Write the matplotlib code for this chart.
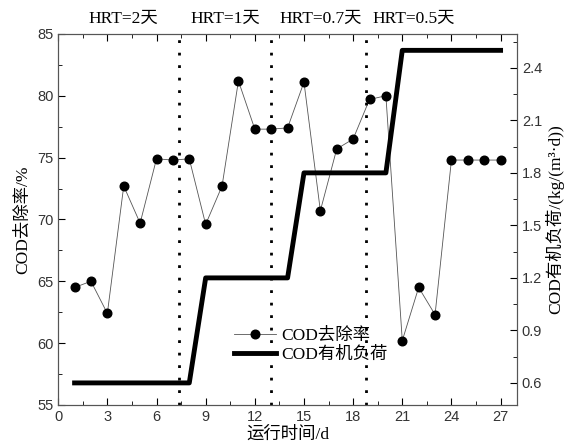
import numpy as np
import matplotlib.pyplot as plt
from matplotlib.ticker import MultipleLocator

plt.rcParams['font.family'] = ['Liberation Serif', 'Noto Sans CJK SC']
plt.rcParams['xtick.direction'] = 'in'
plt.rcParams['ytick.direction'] = 'in'

days = np.arange(1, 28)
removal = [64.5, 65.0, 62.4, 72.7, 69.7, 74.9, 74.8, 74.9, 69.6, 72.7,
           81.2, 77.3, 77.3, 77.4, 81.1, 70.7, 75.7, 76.5, 79.7, 80.0,
           60.2, 64.5, 62.3, 74.8, 74.8, 74.8, 74.8]
load_x = [1, 8, 9, 14, 15, 20, 21, 27]
load_y = [0.6, 0.6, 1.2, 1.2, 1.8, 1.8, 2.5, 2.5]
hrt_bounds = [7.4, 13.0, 18.8]
hrt_labels = ['HRT=2天', 'HRT=1天', 'HRT=0.7天', 'HRT=0.5天']
hrt_pos = [4.0, 10.2, 16.0, 21.7]

fig = plt.figure(figsize=(5.65, 4.46), dpi=100)
ax = fig.add_axes([0.103, 0.092, 0.812, 0.832])
ax2 = ax.twinx()

l1, = ax.plot(days, removal, '-', color='#555555', lw=0.6, marker='o',
              ms=6.2, mfc='black', mec='black', label='COD去除率')
l2, = ax2.plot(load_x, load_y, '-', color='black', lw=3.5, label='COD有机负荷')

for b in hrt_bounds:
    ax.axvline(b, color='black', ls=(0, (1, 3.5)), lw=2.0)

for s, p in zip(hrt_labels, hrt_pos):
    ax.text(p, 85.6, s, ha='center', va='bottom', fontsize=12.5)

ax.set_xlim(0, 28)
ax.set_ylim(55, 85)
ax2.set_ylim(0.474, 2.594)
ax.xaxis.set_major_locator(MultipleLocator(3))
ax.xaxis.set_minor_locator(MultipleLocator(1.5))
ax.yaxis.set_major_locator(MultipleLocator(5))
ax.yaxis.set_minor_locator(MultipleLocator(2.5))
ax2.yaxis.set_major_locator(MultipleLocator(0.3))
ax2.yaxis.set_minor_locator(MultipleLocator(0.15))
ax.tick_params(top=True, which='both')
ax.tick_params(which='major', length=5)
ax.tick_params(which='minor', length=3)
ax2.tick_params(which='major', length=5)
ax2.tick_params(which='minor', length=3)

for a in (ax, ax2):
    for lab in a.get_xticklabels() + a.get_yticklabels():
        lab.set_family('Liberation Sans')
        lab.set_fontsize(10.5)
        lab.set_color('#333333')
    for sp in a.spines.values():
        sp.set_color('#555555')

ax.set_xlabel('运行时间/d', fontsize=12.5, labelpad=2)
ax.set_ylabel('COD去除率/%', fontsize=12.5, labelpad=4)
ax2.set_ylabel('COD有机负荷/(kg/(m³·d))', fontsize=12.5, labelpad=2)

ax.legend([l1, l2], ['COD去除率', 'COD有机负荷'], loc='lower left',
          bbox_to_anchor=(0.35, 0.07), frameon=False, fontsize=12.5,
          handlelength=2.4, handletextpad=0.3, labelspacing=0.2)

fig.savefig('out.png', dpi=100)
